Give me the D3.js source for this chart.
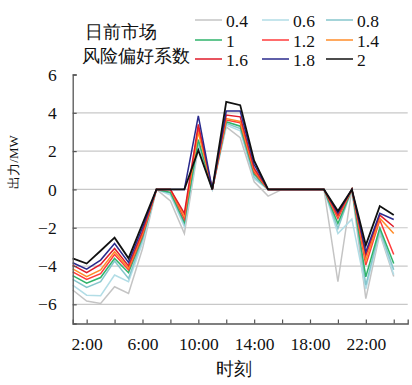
<!DOCTYPE html>
<html><head><meta charset="utf-8">
<script src="https://cdn.jsdelivr.net/npm/d3@7"></script>
<style>body{margin:0;background:#fff}svg{display:block}text{font-family:"Liberation Serif","DejaVu Serif",serif;fill:#111}</style>
</head><body><svg id="c" width="412" height="385"></svg>
<script>
const hours = d3.range(1, 25);
const seriesNames = ["0.4","0.6","0.8","1","1.2","1.4","1.6","1.8","2"];
const colors = ["#c4c4c4","#b2dde6","#86c6cc","#2fb36b","#ff3b3b","#ff8c2a","#e01b2a","#2a2a8c","#111111"];
const s04 = [-5.25,-5.83,-5.95,-5.08,-5.43,-3.1,0,-0.6,-2.3,2.2,0,3.27,2.7,0.4,-0.35,0,0,0,0,-4.82,0,-5.7,-2.3,-4.55];
const s06 = [-5.0,-5.52,-5.55,-4.47,-4.82,-2.8,0,-0.3,-1.95,2.3,0,3.36,3.06,0.55,0,0,0,0,0,-2.3,-1.55,-5.2,-2.2,-4.45];
const s08 = [-4.7,-5.12,-4.82,-3.74,-4.65,-2.6,0,-0.2,-1.8,2.45,0,3.45,3.18,0.65,0,0,0,0,0,-2.04,0,-5.0,-2.1,-4.2];
const s10 = [-4.5,-4.9,-4.6,-3.6,-4.35,-2.5,0,-0.15,-1.7,2.6,0,3.53,3.3,0.8,0,0,0,0,0,-1.78,0,-4.56,-2.0,-3.87];
const s12 = [-4.3,-4.7,-4.4,-3.4,-4.2,-2.4,0,0,-1.55,3.2,0,3.62,3.48,0.9,0,0,0,0,0,-1.52,0,-3.95,-1.6,-3.4];
const s14 = [-4.15,-4.55,-4.2,-3.25,-4.1,-2.3,0,0,-1.4,3.0,0,3.7,3.55,1.0,0,0,0,0,0,-1.4,0,-3.7,-1.5,-2.3];
const s16 = [-3.95,-4.35,-3.92,-3.08,-3.99,-2.2,0,0,-1.25,3.4,0,3.88,3.79,1.1,0,0,0,0,0,-1.34,0,-3.43,-1.34,-1.95];
const s18 = [-3.83,-4.16,-3.69,-2.82,-3.81,-2.0,0,0,0,3.84,0,4.09,4.09,1.3,0,0,0,0,0,-1.22,0,-3.26,-1.25,-1.57];
const s20 = [-3.6,-3.87,-3.2,-2.52,-3.6,-1.8,0,0,0,2.05,0,4.57,4.4,1.5,0,0,0,0,0,-1.13,0,-2.91,-0.87,-1.34];
const allSeries = [s04,s06,s08,s10,s12,s14,s16,s18,s20];
const xTicks = d3.range(2, 25, 2);
const xLabels = [2,6,10,14,18,22];
const yTicks = [-6,-4,-2,0,2,4,6];
const gridVals = [-6,-4,-2,0,2,4];

const svg = d3.select("#c");
const x = d3.scaleLinear().domain([1,25]).range([72.7,407.7]);
const y = d3.scaleLinear().domain([-7,6]).range([323.5,74.5]);

// grid
svg.append("g").selectAll("line").data(gridVals).join("line")
  .attr("x1",x(1)).attr("x2",x(25)).attr("y1",d=>y(d)).attr("y2",d=>y(d))
  .attr("stroke","#c8c8c8").attr("stroke-width",1.2);

// lines
const line = d3.line().x((d,i)=>x(hours[i])).y(d=>y(d));
svg.append("g").selectAll("path").data(allSeries).join("path")
  .attr("d",line).attr("fill","none")
  .attr("stroke",(d,i)=>colors[i]).attr("stroke-width",(d,i)=>i===8?1.8:1.5)
  .attr("stroke-linejoin","miter");

// axes
const xAxis = d3.axisBottom(x).tickValues(xTicks).tickSize(-4).tickFormat(d=>xLabels.includes(d)?d+":00":"").tickPadding(14);
const gx = svg.append("g").attr("transform",`translate(0,${y(-7)})`).call(xAxis);
const yAxis = d3.axisLeft(y).tickValues(yTicks).tickSize(-4).tickFormat(d=>d<0?"\u2212"+Math.abs(d):d).tickPadding(16);
const gy = svg.append("g").attr("transform",`translate(${x(1)},0)`).call(yAxis);
[gx,gy].forEach(g=>{
  g.attr("font-family",null).attr("font-size",null);
  g.select(".domain").attr("stroke","#555").attr("stroke-width",1.3);
  g.selectAll(".tick line").attr("stroke","#555").attr("stroke-width",1.2);
  g.selectAll("text").style("font-size","17.5px").attr("fill","#111");
});

// axis titles
svg.append("text").attr("x",234).attr("y",375).attr("text-anchor","middle").style("font-size","18px").text("时刻");
svg.append("text").attr("transform","translate(18,162) rotate(-90)").attr("text-anchor","middle").style("font-size","13px").text("出力/MW");

// legend
svg.append("text").attr("x",85).attr("y",38).style("font-size","18px").text("日前市场");
svg.append("text").attr("x",82).attr("y",62).style("font-size","18px").text("风险偏好系数");
const colX = [195,262,326];
const rowY = [20,40,59];
const lg = svg.append("g").selectAll("g").data(seriesNames).join("g")
  .attr("transform",(d,i)=>`translate(${colX[i%3]},${rowY[Math.floor(i/3)]})`);
lg.append("line").attr("x1",0).attr("x2",27).attr("stroke",(d,i)=>colors[i]).attr("stroke-width",1.5);
lg.append("text").attr("x",31).attr("y",6.5).style("font-size","17.5px").text(d=>d);
</script></body></html>
